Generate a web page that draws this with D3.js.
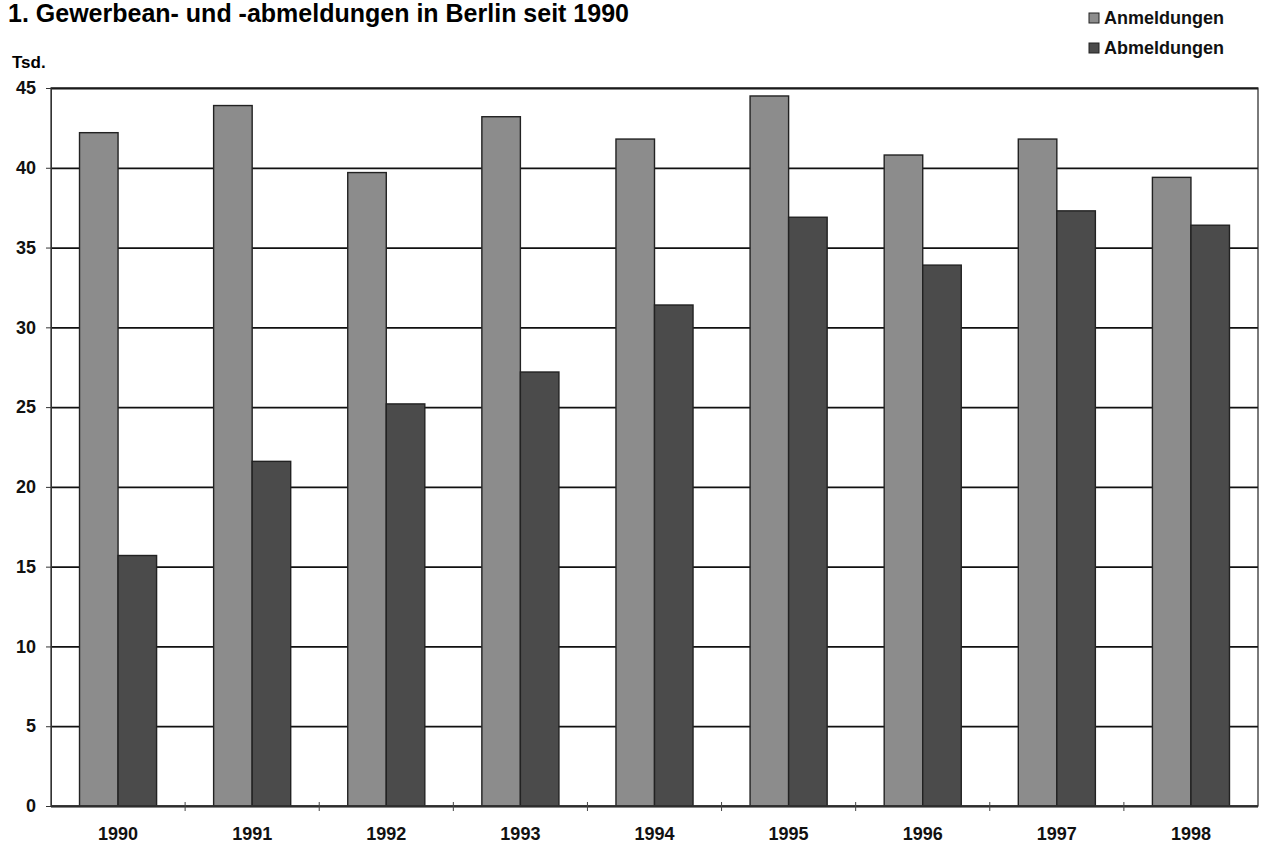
<!DOCTYPE html>
<html>
<head>
<meta charset="utf-8">
<script src="https://cdn.jsdelivr.net/npm/d3@7"></script>
<style>
  html, body { margin: 0; padding: 0; background: #fff; overflow: hidden; }
  svg { display: block; font-family: "Liberation Sans", Arial, sans-serif; }
</style>
</head>
<body>
<svg id="chart" width="1263" height="852"></svg>
<script>
// values (Tsd.)
var years = ["1990", "1991", "1992", "1993", "1994", "1995", "1996", "1997", "1998"];
var anmeldungen = [42.2, 43.9, 39.7, 43.2, 41.8, 44.5, 40.8, 41.8, 39.4];
var abmeldungen = [15.7, 21.6, 25.2, 27.2, 31.4, 36.9, 33.9, 37.3, 36.4];
var seriesNames = ["Anmeldungen", "Abmeldungen"];
var colors = ["#8c8c8c", "#4b4b4b"];
var yTicks = [0, 5, 10, 15, 20, 25, 30, 35, 40, 45];

var svg = d3.select('#chart');
var margin = { left: 51, right: 5, top: 88, bottom: 46 };
var width = 1263, height = 852;
var innerWidth = width - margin.left - margin.right;
var innerHeight = height - margin.top - margin.bottom;

// title
svg.append('text')
    .attr('x', 8)
    .attr('y', 22)
    .style('font-size', '25px')
    .style('font-weight', 'bold')
    .text('1. Gewerbean- und -abmeldungen in Berlin seit 1990');

svg.append('text')
    .attr('x', 12)
    .attr('y', 68)
    .style('font-size', '17px')
    .style('font-weight', 'bold')
    .text('Tsd.');

let g = svg.append('g')
    .attr('transform', `translate(${margin.left}, ${margin.top})`);

let xScale = d3.scaleBand()
    .domain(years)
    .range([0, innerWidth]);

let subScale = d3.scaleBand()
    .domain(seriesNames)
    .range([0, xScale.bandwidth()])
    .paddingInner(0)
    .paddingOuter(0.74);

let yScale = d3.scaleLinear()
    .domain([0, 45])
    .range([innerHeight, 0]);

// gridlines
let grid = g.append('g');
grid.call(d3.axisRight(yScale).tickValues(yTicks).tickSize(innerWidth).tickFormat(''))
    .select('.domain').remove();
grid.selectAll('.tick line')
    .style('stroke', '#111')
    .style('stroke-width', 1.8);

// bars
let data = years.map((y, i) => ({ year: y, values: [anmeldungen[i], abmeldungen[i]] }));
let groups = g.selectAll('.grp')
    .data(data)
    .enter().append('g')
    .attr('class', 'grp')
    .attr('transform', d => `translate(${xScale(d.year)}, 0)`);

groups.selectAll('rect')
    .data(d => d.values.map((v, k) => ({ name: seriesNames[k], value: v, k: k })))
    .enter().append('rect')
    .attr('x', d => subScale(d.name))
    .attr('y', d => yScale(d.value))
    .attr('width', subScale.bandwidth())
    .attr('height', d => innerHeight - yScale(d.value))
    .style('fill', d => colors[d.k])
    .style('stroke', '#222')
    .style('stroke-width', 1.4);

// plot frame
g.append('rect')
    .attr('width', innerWidth)
    .attr('height', innerHeight)
    .style('fill', 'none')
    .style('stroke', '#222')
    .style('stroke-width', 1.2);

// y axis
let yAxis = g.append('g');
yAxis.call(d3.axisLeft(yScale).tickValues(yTicks).tickSize(5).tickPadding(10));
yAxis.select('.domain').style('stroke', '#333');
yAxis.selectAll('.tick line').style('stroke', '#333');
yAxis.selectAll('.tick text')
    .style('font-size', '18px')
    .style('font-weight', 'bold')
    .style('fill', '#111');

// x axis: ticks between groups
let xAxis = g.append('g')
    .attr('transform', `translate(0, ${innerHeight})`);
xAxis.append('line')
    .attr('x1', 0).attr('x2', innerWidth)
    .style('stroke', '#333').style('stroke-width', 1.5);
xAxis.selectAll('.sep')
    .data(years.slice(1))
    .enter().append('line')
    .attr('x1', d => xScale(d)).attr('x2', d => xScale(d))
    .attr('y1', -4).attr('y2', 5)
    .style('stroke', '#444');
xAxis.selectAll('.lbl')
    .data(years)
    .enter().append('text')
    .attr('x', d => xScale(d) + subScale(seriesNames[1]))
    .attr('y', 34)
    .attr('text-anchor', 'middle')
    .style('font-size', '18px')
    .style('font-weight', 'bold')
    .style('fill', '#111')
    .text(d => d);

// legend
let legend = svg.append('g')
    .attr('transform', 'translate(1089, 10)');
seriesNames.forEach((name, i) => {
    let row = legend.append('g').attr('transform', `translate(0, ${i * 30})`);
    row.append('rect')
        .attr('y', 3)
        .attr('width', 10).attr('height', 10)
        .style('fill', colors[i])
        .style('stroke', '#222');
    row.append('text')
        .attr('x', 15).attr('y', 14)
        .style('font-size', '18px')
        .style('font-weight', 'bold')
        .style('fill', '#111')
        .text(name);
});
</script>
</body>
</html>
